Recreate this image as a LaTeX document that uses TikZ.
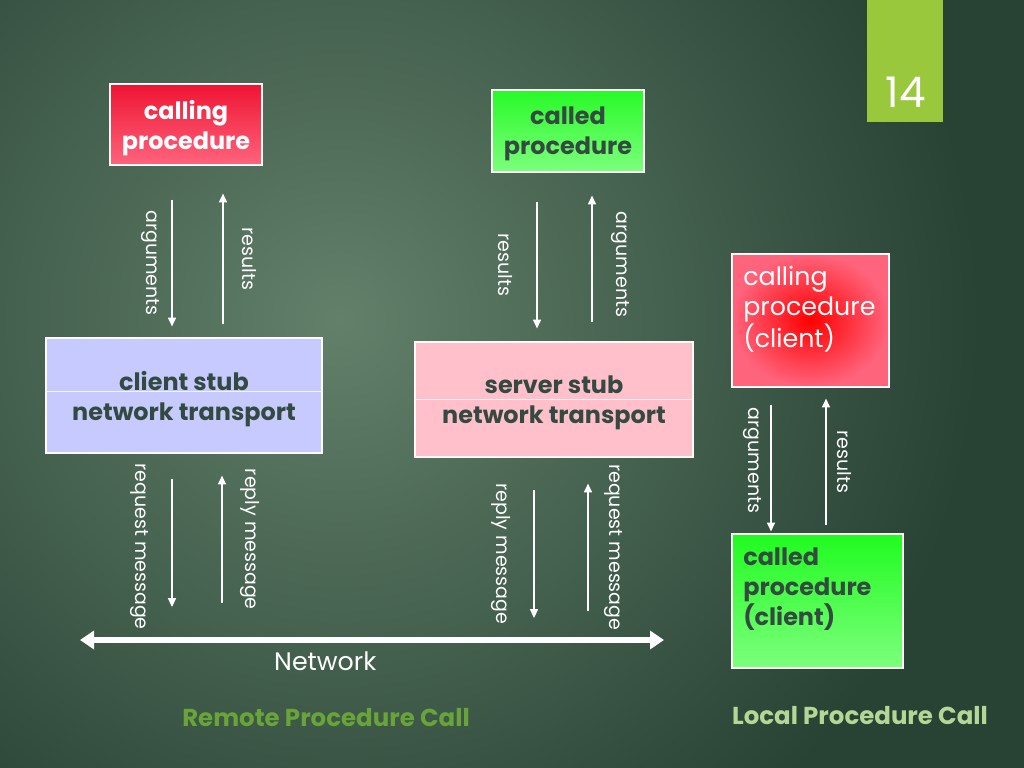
\documentclass[tikz,border=0pt]{standalone}
\usepackage{fontspec}
\setmainfont{Poppins}
\usetikzlibrary{arrows.meta,positioning}

\definecolor{bgdark}{RGB}{40,66,52}
\definecolor{bglight}{RGB}{98,128,106}
\definecolor{inkdark}{RGB}{52,74,64}
\definecolor{redtop}{RGB}{238,20,50}
\definecolor{redbot}{RGB}{255,100,125}
\definecolor{greentop}{RGB}{40,250,40}
\definecolor{greenbot}{RGB}{125,255,125}
\definecolor{stubblue}{RGB}{198,202,255}
\definecolor{stubpink}{RGB}{255,192,204}
\definecolor{pagegreen}{RGB}{154,200,60}
\definecolor{rpcgreen}{RGB}{106,163,57}
\definecolor{lpcgreen}{RGB}{180,215,150}

\begin{document}
\begin{tikzpicture}[
    x=0.025cm, y=-0.025cm,
    proc/.style={draw=white!90!pink, line width=0.8pt, inner sep=0pt, align=center, text depth=0pt, font=\fontsize{17}{21.3}\selectfont\bfseries},
    stub/.style={proc, text=inkdark, minimum height=2.875cm},
    ptext/.style={align=left, anchor=north west, inner sep=0pt},
    arr/.style={draw=white, line width=1pt, -{Triangle[length=2.2mm, width=2mm]}},
    lbl/.style={text=white, font=\fontsize{13.5}{16}\selectfont, rotate=-90, inner xsep=0pt, text height=0pt, text depth=0pt},
    lblL/.style={lbl, anchor=north, inner ysep=#1},
    lblR/.style={lbl, anchor=south, inner ysep=#1},
    net/.style={draw=white, line width=4.3pt, {Triangle[length=3.5mm, width=4.5mm]}-{Triangle[length=3.5mm, width=4.5mm]}},
    title/.style={font=\fontsize{17.4}{20}\selectfont\bfseries}
  ]
  % background
  \fill[bgdark] (0,0) rectangle (1024,768);
  \begin{scope}
    \clip (0,0) rectangle (1024,768);
    \shade[inner color=bglight, outer color=bgdark] (340,320) circle (16cm);
  \end{scope}
  \useasboundingbox (0,0) rectangle (1024,768);

  % page number
  \node[fill=pagegreen, minimum width=1.9cm, minimum height=3.05cm, inner sep=0pt] (pg) at (905,61) {};
  \node[text=white, font=\fontsize{30}{34}\selectfont] (pgnum) at (906,92) {14};

  % remote procedure call
  \node[proc, text=white, top color=redtop, bottom color=redbot, minimum width=3.8cm, minimum height=2.025cm] (cp) at (186,124.5) {calling\\procedure};
  \node[proc, text=inkdark, top color=greentop, bottom color=greenbot, minimum width=3.8cm, minimum height=2.05cm] (cdp) at (568,131) {called\\procedure};
  \node[stub, fill=stubblue, minimum width=6.9cm] (cs) at (184,395.5) {client stub\\network transport};
  \node[stub, fill=stubpink, minimum width=6.95cm] (ss) at (554,399.5) {server stub\\network transport};
  \draw[white!80!stubblue, line width=0.8pt] ([yshift=0.09cm]cs.west) -- ([yshift=0.09cm]cs.east);
  \draw[white!80!stubpink, line width=0.8pt] (ss.west) -- (ss.east);

  \coordinate (netL) at (80,640);
  \coordinate (netR) at (664,640);
  \draw[net] (netL) -- node[pos=0.42, yshift=-0.525cm, text=white, font=\fontsize{18}{21}\selectfont] (netlbl) {Network} (netR);

  \draw[arr] ([shift={(-14,34)}]cp.south) -- node[midway, lblL=0.61cm] (l1) {arguments} ([shift={(-12,-11)}]cs.north);
  \draw[arr] ([shift={(39,-13)}]cs.north) -- node[midway, lblR=0.475cm] (l2) {results} ([shift={(37,28)}]cp.south);
  \draw[arr] ([shift={(-31,29)}]cdp.south) -- node[midway, lblL=0.95cm] (l3) {results} ([shift={(-17,-13)}]ss.north);
  \draw[arr] ([shift={(38,-19)}]ss.north) -- node[pos=0.457, lblR=0.6cm] (l4) {arguments} ([shift={(24,23)}]cdp.south);
  \draw[arr] ([shift={(-12,25)}]cs.south) -- node[pos=0.53, lblL=0.9cm] (l5) {request message} ([shift={(92,-33)}]netL);
  \draw[arr] ([shift={(142,-37)}]netL) -- node[midway, lblR=0.56cm] (l6) {reply message} ([shift={(38,22)}]cs.south);
  \draw[arr] ([shift={(-20,32)}]ss.south) -- node[midway, lblL=0.91cm] (l7) {reply message} ([shift={(454,-22)}]netL);
  \draw[arr] ([shift={(508,-29)}]netL) -- node[midway, lblR=0.51cm] (l8) {request message} ([shift={(34,26)}]ss.south);

  \node[title, text=rpcgreen] (rpc) at (326,718) {Remote Procedure Call};

  % local procedure call
  \node[proc, inner color=red, outer color=redbot, minimum width=3.925cm, minimum height=3.325cm] (lcp) at (810.5,320.5) {};
  \node[ptext, text=white, font=\fontsize{18}{21.3}\selectfont] (lcpt) at (743,266) {calling\\procedure\\(client)};
  \node[proc, top color=greentop!80!green, bottom color=greenbot, minimum width=4.275cm, minimum height=3.35cm] (lcd) at (817.5,601) {};
  \node[ptext, text=inkdark, font=\fontsize{17}{21.3}\selectfont\bfseries] (lcdt) at (743,548) {called\\procedure\\(client)};

  \draw[arr] ([shift={(-39.5,17)}]lcp.south) -- node[pos=0.44, lblL=0.54cm] (l9) {arguments} ([shift={(-46.5,-2)}]lcd.north);
  \draw[arr] ([shift={(8.5,-8)}]lcd.north) -- node[midway, lblR=0.275cm] (l10) {results} ([shift={(15.5,11)}]lcp.south);

  \node[title, text=lpcgreen] (lpc) at (860,716) {Local Procedure Call};
\end{tikzpicture}
\end{document}
